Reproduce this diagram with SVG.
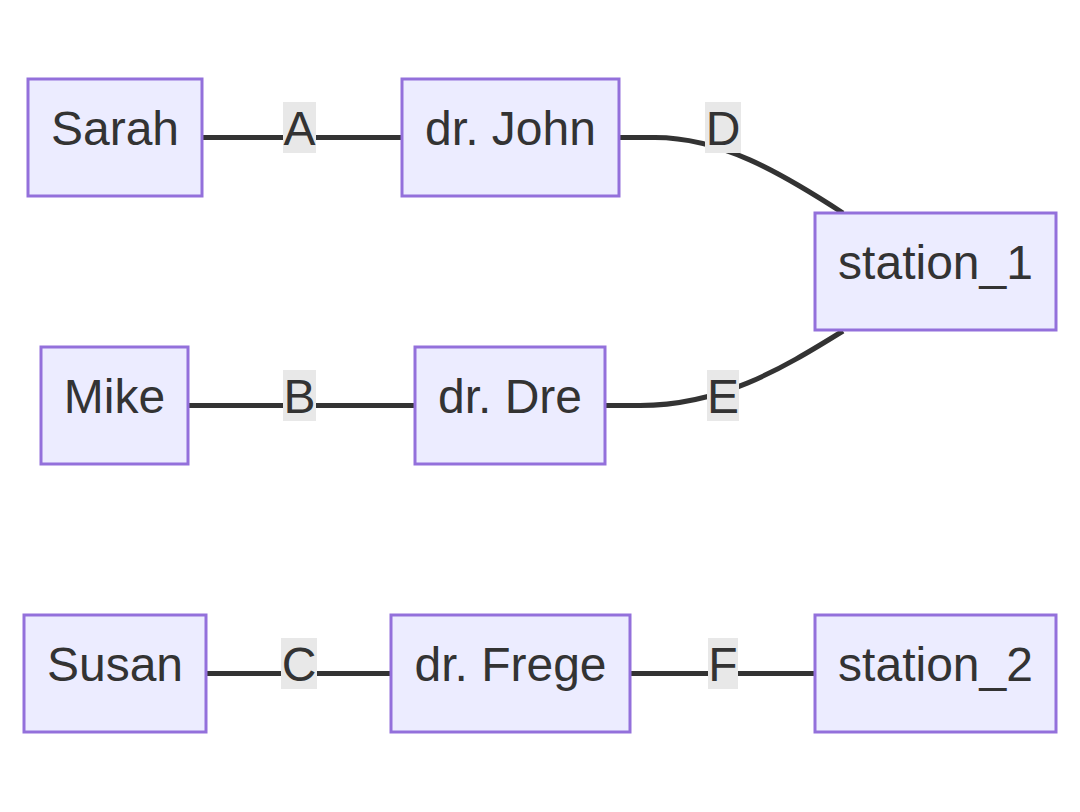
<svg xmlns="http://www.w3.org/2000/svg" width="1080" height="812" viewBox="0 0 1080 812">
<style>
.node rect{fill:#ECECFF;stroke:#9370DB;stroke-width:3}
text{font-family:"Liberation Sans",Arial,sans-serif;font-size:48px;fill:#333333;text-anchor:middle}
.edge{fill:none;stroke:#333333;stroke-width:5}
.lbl rect{fill:#E8E8E8}
</style>
<rect width="1080" height="812" fill="#ffffff"/>
<g id="edges">
<path class="edge" d="M202,137.5 L402,137.5"/>
<path class="edge" d="M188,405.5 L415,405.5"/>
<path class="edge" d="M206,673.5 L391,673.5"/>
<path class="edge" d="M630,673.5 L815,673.5"/>
<path class="edge" d="M619,137.5 L655,137.5 C720,137.5 780,172 843,213"/>
<path class="edge" d="M606,405.5 L640,405.5 C720,405.5 780,370 843,331"/>
</g>
<g id="edge-labels">
<g class="lbl" id="label-A"><rect x="283" y="102" width="33" height="51"/><text x="299.5" y="145">A</text></g>
<g class="lbl" id="label-B"><rect x="283" y="370" width="33" height="51"/><text x="299.5" y="413">B</text></g>
<g class="lbl" id="label-C"><rect x="281" y="638" width="36" height="51"/><text x="299" y="681">C</text></g>
<g class="lbl" id="label-D"><rect x="705" y="102" width="36" height="51"/><text x="723" y="145">D</text></g>
<g class="lbl" id="label-E"><rect x="707" y="370" width="32" height="51"/><text x="723" y="413">E</text></g>
<g class="lbl" id="label-F"><rect x="708" y="638" width="30" height="51"/><text x="723" y="681">F</text></g>
</g>
<g class="node" id="Sarah"><rect x="28" y="79" width="174" height="117"/><text x="115" y="145">Sarah</text></g>
<g class="node" id="drJohn"><rect x="402" y="79" width="217" height="117"/><text x="510.5" y="145">dr. John</text></g>
<g class="node" id="station_1"><rect x="815" y="213" width="241" height="117"/><text x="935.5" y="279">station_1</text></g>
<g class="node" id="Mike"><rect x="41" y="347" width="147" height="117"/><text x="114.5" y="413">Mike</text></g>
<g class="node" id="drDre"><rect x="415" y="347" width="190" height="117"/><text x="510" y="413">dr. Dre</text></g>
<g class="node" id="Susan"><rect x="24" y="615" width="182" height="117"/><text x="115" y="681">Susan</text></g>
<g class="node" id="drFrege"><rect x="391" y="615" width="239" height="117"/><text x="510.5" y="681">dr. Frege</text></g>
<g class="node" id="station_2"><rect x="815" y="615" width="241" height="117"/><text x="935.5" y="681">station_2</text></g>
</svg>
